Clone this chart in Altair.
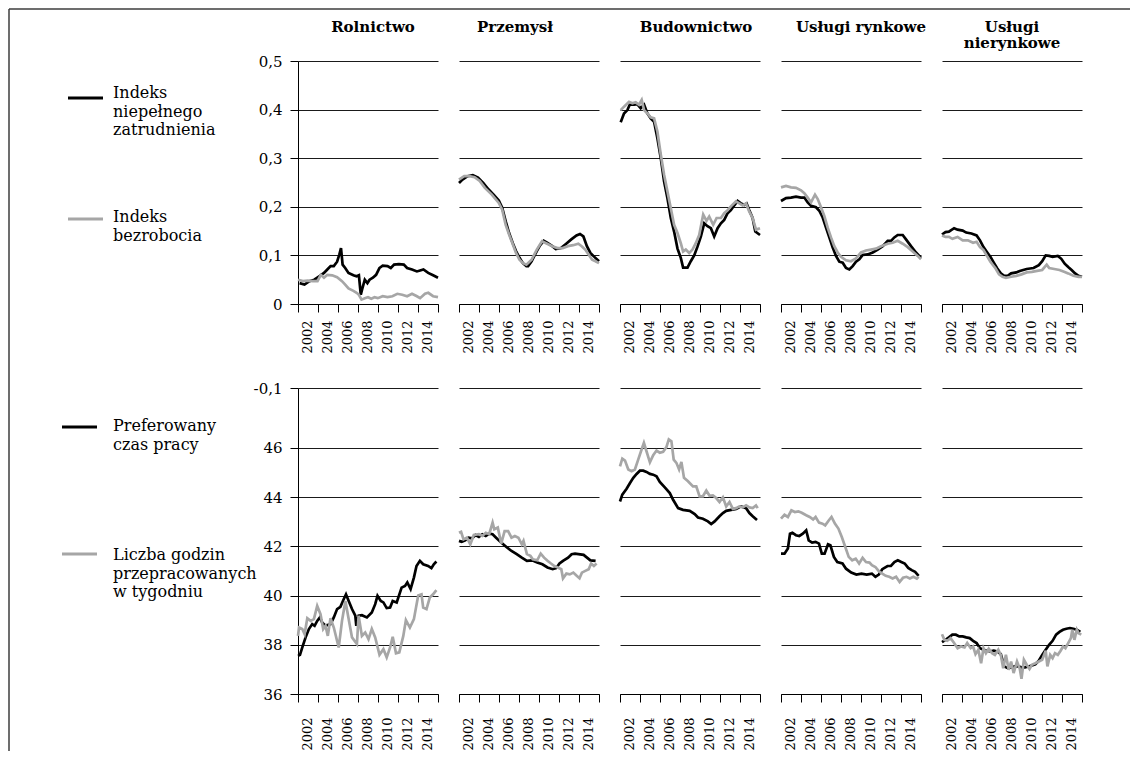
import altair as alt
import pandas as pd

FONT = "DejaVu Serif"
BLACK = "#000000"
GRAY = "#a6a6a6"

sektory = ["Rolnictwo", "Przemysł", "Budownictwo", "Usługi rynkowe", "Usługi nierynkowe"]
tytuly = [["Rolnictwo"], ["Przemysł"], ["Budownictwo"], ["Usługi rynkowe"], ["Usługi", "nierynkowe"]]

legenda_gora = ["Indeks\nniepełnego\nzatrudnienia", "Indeks\nbezrobocia"]
legenda_dol = ["Preferowany\nczas pracy", "Liczba godzin\nprzepracowanych\nw tygodniu"]

x_ticki = [2001, 2003, 2005, 2007, 2009, 2011, 2013, 2015]
x_etykiety = ["2002", "2004", "2006", "2008", "2010", "2012", "2014", ""]
y_gora_ticki = [0, 0.1, 0.2, 0.3, 0.4, 0.5]
y_gora_etykiety = ["0", "0,1", "0,2", "0,3", "0,4", "0,5"]
y_dol_ticki = [36, 38, 40, 42, 44, 46, 48.43]
y_dol_etykiety = ["36", "38", "40", "42", "44", "46", "-0,1"]

# ---------------- top row: Indeks niepełnego zatrudnienia (black) / Indeks bezrobocia (gray)
rol_niep_rok = [2001.16, 2001.65, 2002.14, 2002.63, 2003.12, 2003.60, 2003.93, 2004.26, 2004.58, 2004.91,
                2005.14, 2005.30, 2005.46, 2005.72, 2006.05, 2006.54, 2006.86, 2007.09, 2007.28, 2007.41,
                2007.68, 2007.94, 2008.16, 2008.49, 2008.81, 2009.14, 2009.47, 2009.95, 2010.28, 2010.61,
                2011.09, 2011.58, 2011.91, 2012.40, 2012.89, 2013.21, 2013.54, 2014.02, 2014.51, 2015.00]
rol_niep = [0.043, 0.040, 0.047, 0.050, 0.057, 0.064, 0.071, 0.078, 0.078, 0.087,
            0.102, 0.115, 0.081, 0.074, 0.064, 0.059, 0.057, 0.059, 0.019, 0.030,
            0.050, 0.043, 0.050, 0.054, 0.060, 0.074, 0.079, 0.078, 0.074, 0.081,
            0.082, 0.081, 0.074, 0.071, 0.067, 0.069, 0.071, 0.064, 0.059, 0.054]
rol_bezr_rok = [2001.00, 2001.49, 2001.98, 2002.47, 2002.95, 2003.28, 2003.60, 2003.93, 2004.42, 2004.91,
                2005.40, 2005.72, 2006.05, 2006.54, 2006.86, 2007.09, 2007.35, 2007.68, 2008.00, 2008.33,
                2008.65, 2008.98, 2009.47, 2009.95, 2010.44, 2010.93, 2011.42, 2011.91, 2012.40, 2012.89,
                2013.21, 2013.70, 2014.03, 2014.51, 2015.00]
rol_bezr = [0.050, 0.047, 0.048, 0.047, 0.047, 0.060, 0.054, 0.060, 0.059, 0.055,
            0.047, 0.040, 0.032, 0.027, 0.023, 0.019, 0.009, 0.012, 0.014, 0.011,
            0.014, 0.012, 0.016, 0.014, 0.016, 0.021, 0.019, 0.016, 0.021, 0.016,
            0.012, 0.021, 0.023, 0.016, 0.014]

prz_niep_rok = [2001.00, 2001.35, 2001.86, 2002.38, 2002.90, 2003.42, 2003.94, 2004.46, 2004.98, 2005.32,
                2005.67, 2006.01, 2006.36, 2006.70, 2007.05, 2007.39, 2007.74, 2007.91, 2008.26, 2008.78,
                2009.12, 2009.47, 2009.81, 2010.33, 2010.68, 2011.20, 2011.72, 2012.23, 2012.75, 2013.10,
                2013.44, 2013.79, 2014.14, 2014.48, 2015.00]
prz_niep = [0.249, 0.256, 0.263, 0.265, 0.260, 0.249, 0.236, 0.225, 0.213, 0.198,
            0.170, 0.146, 0.126, 0.109, 0.095, 0.084, 0.078, 0.078, 0.088, 0.109,
            0.121, 0.130, 0.126, 0.119, 0.113, 0.115, 0.124, 0.133, 0.141, 0.144,
            0.139, 0.119, 0.105, 0.098, 0.088]
prz_bezr_rok = [2001.00, 2001.52, 2002.04, 2002.56, 2003.07, 2003.59, 2004.28, 2004.98, 2005.32, 2005.67,
                2006.01, 2006.36, 2006.70, 2007.05, 2007.39, 2007.74, 2008.26, 2008.78, 2009.30, 2009.81,
                2010.33, 2010.85, 2011.37, 2011.89, 2012.41, 2012.93, 2013.27, 2013.62, 2013.96, 2014.31,
                2014.65, 2015.00]
prz_bezr = [0.256, 0.263, 0.263, 0.261, 0.253, 0.239, 0.225, 0.208, 0.194, 0.163,
            0.143, 0.124, 0.105, 0.091, 0.084, 0.081, 0.091, 0.112, 0.129, 0.124,
            0.119, 0.115, 0.115, 0.119, 0.121, 0.124, 0.119, 0.112, 0.102, 0.091,
            0.088, 0.084]

bud_niep_rok = [2001.07, 2001.40, 2001.74, 2001.97, 2002.40, 2002.74, 2003.07, 2003.41, 2003.74, 2004.07,
                2004.41, 2004.74, 2005.08, 2005.41, 2005.74, 2006.08, 2006.41, 2006.75, 2007.08, 2007.31,
                2007.75, 2008.08, 2008.42, 2008.75, 2009.09, 2009.42, 2009.75, 2010.09, 2010.42, 2010.76,
                2011.09, 2011.42, 2011.76, 2012.09, 2012.43, 2012.76, 2013.09, 2013.43, 2013.66, 2013.93,
                2014.26, 2014.53, 2015.00]
bud_niep = [0.374, 0.392, 0.399, 0.410, 0.410, 0.411, 0.403, 0.410, 0.392, 0.382,
            0.375, 0.341, 0.300, 0.252, 0.218, 0.177, 0.149, 0.114, 0.095, 0.075,
            0.075, 0.088, 0.100, 0.118, 0.139, 0.166, 0.160, 0.156, 0.139, 0.156,
            0.166, 0.173, 0.187, 0.193, 0.203, 0.212, 0.207, 0.204, 0.207, 0.193,
            0.177, 0.149, 0.142]
bud_bezr_rok = [2001.07, 2001.40, 2001.90, 2002.24, 2002.57, 2002.90, 2003.17, 2003.41, 2003.74, 2004.07,
                2004.41, 2004.74, 2005.08, 2005.41, 2005.74, 2006.08, 2006.41, 2006.75, 2007.08, 2007.31,
                2007.58, 2007.92, 2008.25, 2008.58, 2008.92, 2009.32, 2009.65, 2009.92, 2010.32, 2010.66,
                2011.09, 2011.42, 2011.76, 2012.09, 2012.59, 2012.93, 2013.26, 2013.60, 2013.93, 2014.26,
                2014.60, 2015.00]
bud_bezr = [0.399, 0.406, 0.416, 0.413, 0.415, 0.410, 0.420, 0.399, 0.392, 0.384,
            0.382, 0.355, 0.307, 0.266, 0.232, 0.197, 0.163, 0.146, 0.125, 0.108,
            0.112, 0.105, 0.112, 0.125, 0.142, 0.184, 0.171, 0.180, 0.163, 0.177,
            0.177, 0.187, 0.193, 0.201, 0.211, 0.207, 0.203, 0.207, 0.190, 0.177,
            0.153, 0.156]

uslr_niep_rok = [2001.00, 2001.50, 2002.00, 2002.50, 2003.00, 2003.33, 2003.67, 2004.00, 2004.50, 2004.83,
                 2005.17, 2005.50, 2005.83, 2006.17, 2006.50, 2006.83, 2007.17, 2007.50, 2007.83, 2008.17,
                 2008.50, 2008.83, 2009.17, 2009.67, 2010.17, 2010.67, 2011.17, 2011.67, 2012.00, 2012.33,
                 2012.67, 2013.17, 2013.50, 2014.00, 2014.50, 2015.00]
uslr_niep = [0.212, 0.218, 0.219, 0.221, 0.219, 0.219, 0.209, 0.202, 0.199, 0.192,
             0.178, 0.157, 0.137, 0.116, 0.099, 0.087, 0.085, 0.074, 0.071, 0.078,
             0.087, 0.092, 0.101, 0.102, 0.106, 0.112, 0.119, 0.130, 0.130, 0.137,
             0.142, 0.142, 0.133, 0.119, 0.106, 0.095]
uslr_bezr_rok = [2001.00, 2001.50, 2002.00, 2002.50, 2003.00, 2003.33, 2003.67, 2004.00, 2004.40, 2004.67,
                 2005.00, 2005.33, 2005.67, 2006.00, 2006.33, 2006.67, 2007.00, 2007.50, 2008.00, 2008.50,
                 2009.00, 2009.50, 2010.00, 2010.50, 2011.00, 2011.67, 2012.17, 2012.67, 2013.17, 2013.67,
                 2014.17, 2014.67, 2015.00]
uslr_bezr = [0.240, 0.243, 0.240, 0.239, 0.234, 0.228, 0.219, 0.209, 0.225, 0.216,
             0.199, 0.181, 0.157, 0.137, 0.119, 0.106, 0.097, 0.090, 0.088, 0.094,
             0.106, 0.110, 0.112, 0.114, 0.119, 0.124, 0.126, 0.130, 0.124, 0.117,
             0.108, 0.099, 0.092]

usln_niep_rok = [2001.00, 2001.35, 2001.69, 2002.21, 2002.56, 2003.07, 2003.42, 2003.94, 2004.46, 2004.80,
                 2005.15, 2005.49, 2005.84, 2006.18, 2006.53, 2006.88, 2007.22, 2007.57, 2007.91, 2008.43,
                 2008.78, 2009.12, 2009.47, 2009.81, 2010.16, 2010.68, 2011.02, 2011.37, 2011.72, 2012.06,
                 2012.58, 2012.93, 2013.27, 2013.62, 2013.96, 2014.31, 2014.65, 2015.00]
usln_niep = [0.143, 0.148, 0.149, 0.156, 0.153, 0.151, 0.147, 0.145, 0.141, 0.131,
             0.117, 0.107, 0.097, 0.085, 0.073, 0.063, 0.058, 0.058, 0.063, 0.065,
             0.068, 0.070, 0.072, 0.073, 0.074, 0.080, 0.088, 0.100, 0.099, 0.097,
             0.099, 0.093, 0.083, 0.076, 0.070, 0.063, 0.058, 0.056]
usln_bezr_rok = [2001.00, 2001.35, 2001.69, 2002.04, 2002.56, 2003.07, 2003.59, 2004.11, 2004.46, 2004.80,
                 2005.15, 2005.49, 2005.84, 2006.36, 2006.70, 2007.05, 2007.39, 2007.91, 2008.43, 2008.95,
                 2009.47, 2009.99, 2010.51, 2011.02, 2011.47, 2011.72, 2012.23, 2012.75, 2013.27, 2013.62,
                 2014.14, 2014.65, 2015.00]
usln_bezr = [0.141, 0.138, 0.138, 0.134, 0.138, 0.131, 0.131, 0.126, 0.128, 0.117,
             0.111, 0.099, 0.087, 0.073, 0.061, 0.056, 0.054, 0.056, 0.058, 0.061,
             0.065, 0.066, 0.068, 0.070, 0.081, 0.074, 0.072, 0.070, 0.066, 0.063,
             0.058, 0.056, 0.056]

# ---------------- bottom row: Preferowany czas pracy (black) / Liczba godzin przepracowanych (gray)
rol_pref_rok = [2001.00, 2001.20, 2001.43, 2001.76, 2002.09, 2002.42, 2002.66, 2002.92, 2003.19, 2003.42,
                2003.75, 2004.25, 2004.58, 2004.91, 2005.24, 2005.57, 2005.80, 2006.07, 2006.40, 2006.73,
                2006.83, 2007.06, 2007.39, 2007.89, 2008.38, 2008.72, 2008.95, 2009.28, 2009.54, 2009.87,
                2010.21, 2010.47, 2010.87, 2011.36, 2011.70, 2011.93, 2012.26, 2012.59, 2012.85, 2013.19,
                2013.52, 2014.01, 2014.34, 2014.58, 2014.84]
rol_pref = [37.55, 37.59, 37.89, 38.30, 38.64, 38.84, 38.77, 38.97, 39.11, 38.91,
            38.77, 38.84, 39.11, 39.45, 39.54, 39.85, 40.05, 39.78, 39.45, 39.18,
            38.77, 39.18, 39.20, 39.11, 39.31, 39.65, 39.99, 39.78, 39.72, 39.49,
            39.51, 39.78, 39.72, 40.32, 40.39, 40.53, 40.26, 40.73, 41.20, 41.41,
            41.27, 41.20, 41.11, 41.27, 41.38]
rol_godz_rok = [2001.00, 2001.10, 2001.43, 2001.66, 2001.93, 2002.26, 2002.59, 2002.92, 2003.25, 2003.52,
                2003.75, 2003.98, 2004.25, 2004.58, 2005.07, 2005.40, 2005.74, 2006.07, 2006.40, 2006.89,
                2007.06, 2007.39, 2007.72, 2008.05, 2008.38, 2008.72, 2009.15, 2009.54, 2009.87, 2010.21,
                2010.47, 2010.80, 2011.13, 2011.53, 2011.79, 2012.19, 2012.59, 2013.02, 2013.35, 2013.52,
                2013.85, 2014.18, 2014.51, 2014.84]
rol_godz = [38.36, 38.70, 38.64, 38.43, 39.08, 38.97, 39.04, 39.58, 39.24, 38.64,
            38.77, 38.36, 39.08, 38.70, 37.89, 38.97, 39.78, 39.04, 38.30, 38.03,
            39.18, 38.36, 38.50, 38.23, 38.64, 38.30, 37.59, 37.82, 37.49, 37.89,
            38.32, 37.65, 37.69, 38.36, 39.00, 38.70, 39.04, 40.00, 40.05, 39.51,
            39.45, 39.92, 40.05, 40.22]

prz_pref_rok = [2001.00, 2001.27, 2001.62, 2001.96, 2002.30, 2002.65, 2002.99, 2003.33, 2003.68, 2004.02,
                2004.36, 2004.71, 2005.22, 2005.74, 2006.25, 2006.77, 2007.28, 2007.79, 2008.31, 2008.82,
                2009.34, 2009.85, 2010.37, 2010.71, 2011.05, 2011.40, 2011.91, 2012.26, 2012.60, 2012.94,
                2013.46, 2013.80, 2014.14, 2014.66]
prz_pref = [42.22, 42.18, 42.24, 42.35, 42.32, 42.46, 42.38, 42.49, 42.42, 42.51,
            42.49, 42.35, 42.15, 41.97, 41.81, 41.68, 41.54, 41.41, 41.43, 41.34,
            41.27, 41.14, 41.07, 41.11, 41.30, 41.41, 41.54, 41.68, 41.70, 41.68,
            41.65, 41.54, 41.43, 41.41]
prz_godz_rok = [2001.00, 2001.21, 2001.45, 2001.79, 2002.13, 2002.48, 2002.99, 2003.33, 2003.68, 2004.02,
                2004.36, 2004.53, 2004.88, 2005.22, 2005.56, 2005.91, 2006.25, 2006.59, 2006.94, 2007.28,
                2007.45, 2007.79, 2008.14, 2008.38, 2008.82, 2009.17, 2009.51, 2009.85, 2010.20, 2010.54,
                2010.88, 2011.23, 2011.40, 2011.74, 2012.08, 2012.43, 2012.77, 2013.05, 2013.29, 2013.63,
                2013.97, 2014.21, 2014.49, 2014.76]
prz_godz = [42.55, 42.59, 42.28, 42.35, 42.08, 42.46, 42.49, 42.42, 42.55, 42.49,
            42.96, 42.69, 42.76, 42.11, 42.62, 42.62, 42.35, 42.42, 42.35, 42.08,
            42.22, 41.68, 41.61, 41.47, 41.43, 41.70, 41.54, 41.41, 41.30, 41.20,
            41.14, 41.07, 40.70, 40.89, 40.86, 40.93, 40.80, 40.70, 40.93, 41.00,
            41.07, 41.30, 41.20, 41.30]

bud_pref_rok = [2001.00, 2001.23, 2001.66, 2002.00, 2002.33, 2002.66, 2002.99, 2003.32, 2003.65, 2003.99,
                2004.32, 2004.65, 2004.98, 2005.48, 2005.98, 2006.31, 2006.81, 2007.30, 2007.97, 2008.47,
                2008.80, 2009.29, 2009.79, 2010.12, 2010.46, 2010.95, 2011.29, 2011.62, 2012.11, 2012.61,
                2013.11, 2013.61, 2013.94, 2014.27, 2014.70]
bud_pref = [43.82, 44.10, 44.34, 44.57, 44.78, 44.94, 45.07, 45.07, 45.02, 44.94,
            44.91, 44.84, 44.61, 44.39, 44.16, 43.89, 43.55, 43.48, 43.44, 43.31,
            43.17, 43.12, 43.01, 42.90, 43.01, 43.22, 43.35, 43.44, 43.48, 43.52,
            43.62, 43.55, 43.35, 43.22, 43.07]
bud_godz_rok = [2001.00, 2001.23, 2001.50, 2001.83, 2002.16, 2002.49, 2002.82, 2003.16, 2003.39, 2003.65,
                2003.99, 2004.32, 2004.65, 2004.98, 2005.31, 2005.64, 2005.88, 2006.14, 2006.37, 2006.64,
                2006.91, 2007.14, 2007.40, 2007.80, 2008.30, 2008.63, 2008.96, 2009.29, 2009.63, 2009.96,
                2010.29, 2010.62, 2010.95, 2011.29, 2011.62, 2011.95, 2012.28, 2012.61, 2012.94, 2013.28,
                2013.61, 2013.94, 2014.27, 2014.60, 2014.77]
bud_godz = [45.25, 45.56, 45.48, 45.12, 45.05, 45.12, 45.52, 45.93, 46.20, 45.86,
            45.41, 45.70, 45.89, 45.80, 45.84, 46.03, 46.34, 46.27, 45.52, 45.39,
            45.12, 45.43, 44.78, 44.64, 44.43, 44.43, 44.03, 44.03, 44.26, 44.05,
            44.07, 43.96, 43.80, 43.99, 43.62, 43.80, 43.52, 43.55, 43.62, 43.58,
            43.66, 43.58, 43.55, 43.66, 43.55]

uslr_pref_rok = [2001.00, 2001.35, 2001.69, 2001.90, 2002.14, 2002.49, 2002.83, 2003.18, 2003.52, 2003.77,
                 2004.11, 2004.46, 2004.80, 2005.08, 2005.36, 2005.70, 2005.94, 2006.29, 2006.63, 2007.15,
                 2007.50, 2008.02, 2008.54, 2009.05, 2009.57, 2010.09, 2010.44, 2010.78, 2011.13, 2011.65,
                 2011.99, 2012.34, 2012.68, 2013.03, 2013.37, 2013.72, 2014.07, 2014.41, 2014.76]
uslr_pref = [41.70, 41.70, 41.91, 42.51, 42.55, 42.45, 42.42, 42.51, 42.65, 42.24,
             42.15, 42.18, 42.11, 41.70, 41.70, 42.08, 42.04, 41.57, 41.36, 41.30,
             41.09, 40.93, 40.85, 40.89, 40.85, 40.89, 40.76, 40.85, 41.07, 41.20,
             41.20, 41.36, 41.43, 41.36, 41.30, 41.12, 41.03, 40.96, 40.80]
uslr_godz_rok = [2001.00, 2001.35, 2001.69, 2002.04, 2002.38, 2002.73, 2003.07, 2003.52, 2003.87, 2004.21,
                 2004.46, 2004.80, 2005.15, 2005.42, 2005.77, 2006.05, 2006.39, 2006.74, 2007.08, 2007.43,
                 2007.77, 2008.12, 2008.47, 2008.81, 2009.16, 2009.50, 2009.85, 2010.09, 2010.44, 2010.78,
                 2011.13, 2011.47, 2011.82, 2012.16, 2012.51, 2012.86, 2013.20, 2013.55, 2013.89, 2014.24,
                 2014.58, 2014.76]
uslr_godz = [43.12, 43.28, 43.19, 43.46, 43.39, 43.42, 43.36, 43.26, 43.19, 43.09,
             43.19, 42.96, 42.92, 42.85, 43.05, 43.19, 42.92, 42.72, 42.38, 41.97,
             41.57, 41.43, 41.50, 41.30, 41.53, 41.36, 41.34, 41.23, 41.16, 40.99,
             40.89, 40.80, 40.76, 40.69, 40.76, 40.55, 40.72, 40.76, 40.69, 40.76,
             40.69, 40.76]

usln_pref_rok = [2001.00, 2001.35, 2001.69, 2002.04, 2002.38, 2002.73, 2003.07, 2003.42, 2003.77, 2004.11,
                 2004.46, 2004.80, 2005.15, 2005.49, 2005.84, 2006.18, 2006.53, 2006.88, 2007.22, 2007.57,
                 2007.91, 2008.26, 2008.60, 2008.95, 2009.30, 2009.64, 2009.99, 2010.33, 2010.68, 2011.02,
                 2011.37, 2011.71, 2012.06, 2012.41, 2012.75, 2013.10, 2013.44, 2013.79, 2014.13, 2014.48,
                 2014.83]
usln_pref = [38.11, 38.20, 38.30, 38.41, 38.41, 38.34, 38.34, 38.30, 38.27, 38.16,
             38.07, 37.86, 37.80, 37.76, 37.73, 37.76, 37.73, 37.62, 37.12, 37.05,
             37.08, 37.12, 37.12, 37.08, 37.08, 37.12, 37.16, 37.21, 37.35, 37.59,
             37.80, 38.00, 38.16, 38.41, 38.52, 38.61, 38.65, 38.68, 38.65, 38.61,
             38.52]
usln_godz_rok = [2001.00, 2001.24, 2001.52, 2001.86, 2002.21, 2002.56, 2002.90, 2003.25, 2003.52, 2003.87,
                 2004.11, 2004.35, 2004.63, 2004.91, 2005.15, 2005.39, 2005.67, 2006.01, 2006.29, 2006.63,
                 2006.88, 2007.12, 2007.39, 2007.67, 2007.91, 2008.16, 2008.50, 2008.78, 2008.95, 2009.19,
                 2009.47, 2009.75, 2009.99, 2010.33, 2010.68, 2011.02, 2011.37, 2011.54, 2011.82, 2012.06,
                 2012.30, 2012.58, 2012.86, 2013.10, 2013.34, 2013.62, 2013.89, 2014.03, 2014.24, 2014.48,
                 2014.65, 2014.93]
usln_godz = [38.43, 38.20, 38.16, 38.27, 38.07, 37.86, 37.93, 37.89, 38.07, 37.86,
             37.93, 37.62, 37.80, 37.25, 37.86, 37.66, 37.84, 37.66, 37.59, 37.80,
             37.59, 37.05, 37.59, 36.98, 37.32, 36.85, 37.32, 37.02, 36.62, 37.39,
             37.19, 37.02, 37.19, 37.25, 37.32, 37.39, 37.76, 37.12, 37.59, 37.46,
             37.66, 37.59, 37.76, 37.93, 37.86, 38.07, 38.27, 38.61, 38.20, 38.61,
             38.47, 38.41]

gora = [((rol_niep_rok, rol_niep), (rol_bezr_rok, rol_bezr)),
        ((prz_niep_rok, prz_niep), (prz_bezr_rok, prz_bezr)),
        ((bud_niep_rok, bud_niep), (bud_bezr_rok, bud_bezr)),
        ((uslr_niep_rok, uslr_niep), (uslr_bezr_rok, uslr_bezr)),
        ((usln_niep_rok, usln_niep), (usln_bezr_rok, usln_bezr))]
dol = [((rol_pref_rok, rol_pref), (rol_godz_rok, rol_godz)),
       ((prz_pref_rok, prz_pref), (prz_godz_rok, prz_godz)),
       ((bud_pref_rok, bud_pref), (bud_godz_rok, bud_godz)),
       ((uslr_pref_rok, uslr_pref), (uslr_godz_rok, uslr_godz)),
       ((usln_pref_rok, usln_pref), (usln_godz_rok, usln_godz))]

for grp in (gora, dol):
    for i, pair in enumerate(grp):
        for xs, ys in pair:
            if len(xs) != len(ys):
                raise ValueError(f"length mismatch in panel {i}: {len(xs)} vs {len(ys)}")

# ---------------- layout constants (pixels)
W = 140
H_TOP = 243
H_BOT = 306
SP = 21
LEG_W = 268
TITLE_OFFSETS = [19, 26, 26, 26, 10]
TITLE_DX = [5, -14, 6, 10, 0]


def expr_from(values, labels):
    e = "''"
    for v, l in reversed(list(zip(values, labels))):
        e = f"(abs(datum.value - ({v})) < 0.001 ? '{l}' : {e})"
    return e


def x_enc(pad):
    return alt.X("rok:Q", title=None,
                 scale=alt.Scale(domain=[2001, 2015], nice=False, zero=False),
                 axis=alt.Axis(values=x_ticki, labelExpr=expr_from(x_ticki, x_etykiety),
                               labelAngle=-90, labelOffset=9, labelPadding=pad,
                               labelOverlap=False, labelFlush=False, labelBound=False,
                               grid=False, tickSize=8, tickColor=BLACK, tickWidth=1,
                               domainColor=BLACK, domainWidth=1,
                               labelFont=FONT, labelFontSize=13, labelColor=BLACK))


def y_enc(domain, ticks, labels, show):
    if show:
        ax = alt.Axis(values=ticks, labelExpr=expr_from(ticks, labels), grid=True,
                      gridColor="#1a1a1a", gridWidth=1, tickSize=8, tickColor=BLACK,
                      labelPadding=8, domainColor=BLACK, domainWidth=1,
                      labelFont=FONT, labelFontSize=15, labelColor=BLACK)
    else:
        ax = alt.Axis(values=ticks, grid=True, gridColor="#1a1a1a", gridWidth=1,
                      labels=False, ticks=False, domain=False, minExtent=0)
    return alt.Y("v:Q", title=None, scale=alt.Scale(domain=domain, nice=False, zero=False),
                 axis=ax)


def panel(pair, i, domain, ticks, labels, height, pad, title):
    layers = []
    for (xs, ys), col in zip(pair, [BLACK, GRAY]):
        d = pd.DataFrame({"rok": xs, "v": ys})
        layers.append(alt.Chart(d).mark_line(color=col, strokeWidth=2.7).encode(
            x=x_enc(pad), y=y_enc(domain, ticks, labels, i == 0)))
    props = dict(width=W, height=height)
    if title is not None:
        props["title"] = alt.TitleParams(text=title, font=FONT, fontSize=15, fontWeight="bold",
                                         color=BLACK, anchor="middle", frame="group",
                                         lineHeight=16,
                                         offset=TITLE_OFFSETS[i], dx=TITLE_DX[i])
    return alt.layer(*layers).properties(**props)


def legend(labels, line_x, line_ys, text_ys, height, frame):
    layers = []
    for lab, col, ly, ty in zip(labels, [BLACK, GRAY], line_ys, text_ys):
        d = pd.DataFrame({"etykieta": [lab]})
        layers.append(alt.Chart(d).mark_rule(color=col, strokeWidth=3).encode(
            x=alt.value(line_x[0]), x2=alt.value(line_x[1]), y=alt.value(ly)))
        layers.append(alt.Chart(d).mark_text(align="left", baseline="alphabetic", font=FONT,
                                             fontSize=16, lineHeight=18.5, lineBreak="\n",
                                             color=BLACK).encode(
            text="etykieta:N", x=alt.value(104), y=alt.value(ty)))
    if frame:
        d = pd.DataFrame({"ramka": [0]})
        layers.append(alt.Chart(d).mark_rule(color="#3c3c3c", strokeWidth=1.5).encode(
            x=alt.value(0), x2=alt.value(1121), y=alt.value(-52)))
        layers.append(alt.Chart(d).mark_rule(color="#3c3c3c", strokeWidth=1.5).encode(
            x=alt.value(0), y=alt.value(-52), y2=alt.value(690)))
    return alt.layer(*layers).properties(width=LEG_W, height=height)


top_panels = [panel(gora[i], i, [0, 0.5], y_gora_ticki, y_gora_etykiety, H_TOP, 8, tytuly[i])
              for i in range(5)]
bot_panels = [panel(dol[i], i, [36, 48.43], y_dol_ticki, y_dol_etykiety, H_BOT, 15, None)
              for i in range(5)]

leg_top = legend(legenda_gora, (59, 94), (37, 158), (37, 161), H_TOP, True)
leg_bot = legend(legenda_dol, (53, 88), (39, 166), (43, 172), H_BOT, False)

chart = alt.concat(leg_top, *top_panels, leg_bot, *bot_panels, columns=6,
                   spacing=alt.RowColnumber(row=84, column=SP), bounds="flush").properties(
    padding=0, background="white"
).configure(font=FONT).configure_view(strokeWidth=0, stroke="transparent")

chart.save("out.html", embed_options={"renderer": "svg", "actions": False})
